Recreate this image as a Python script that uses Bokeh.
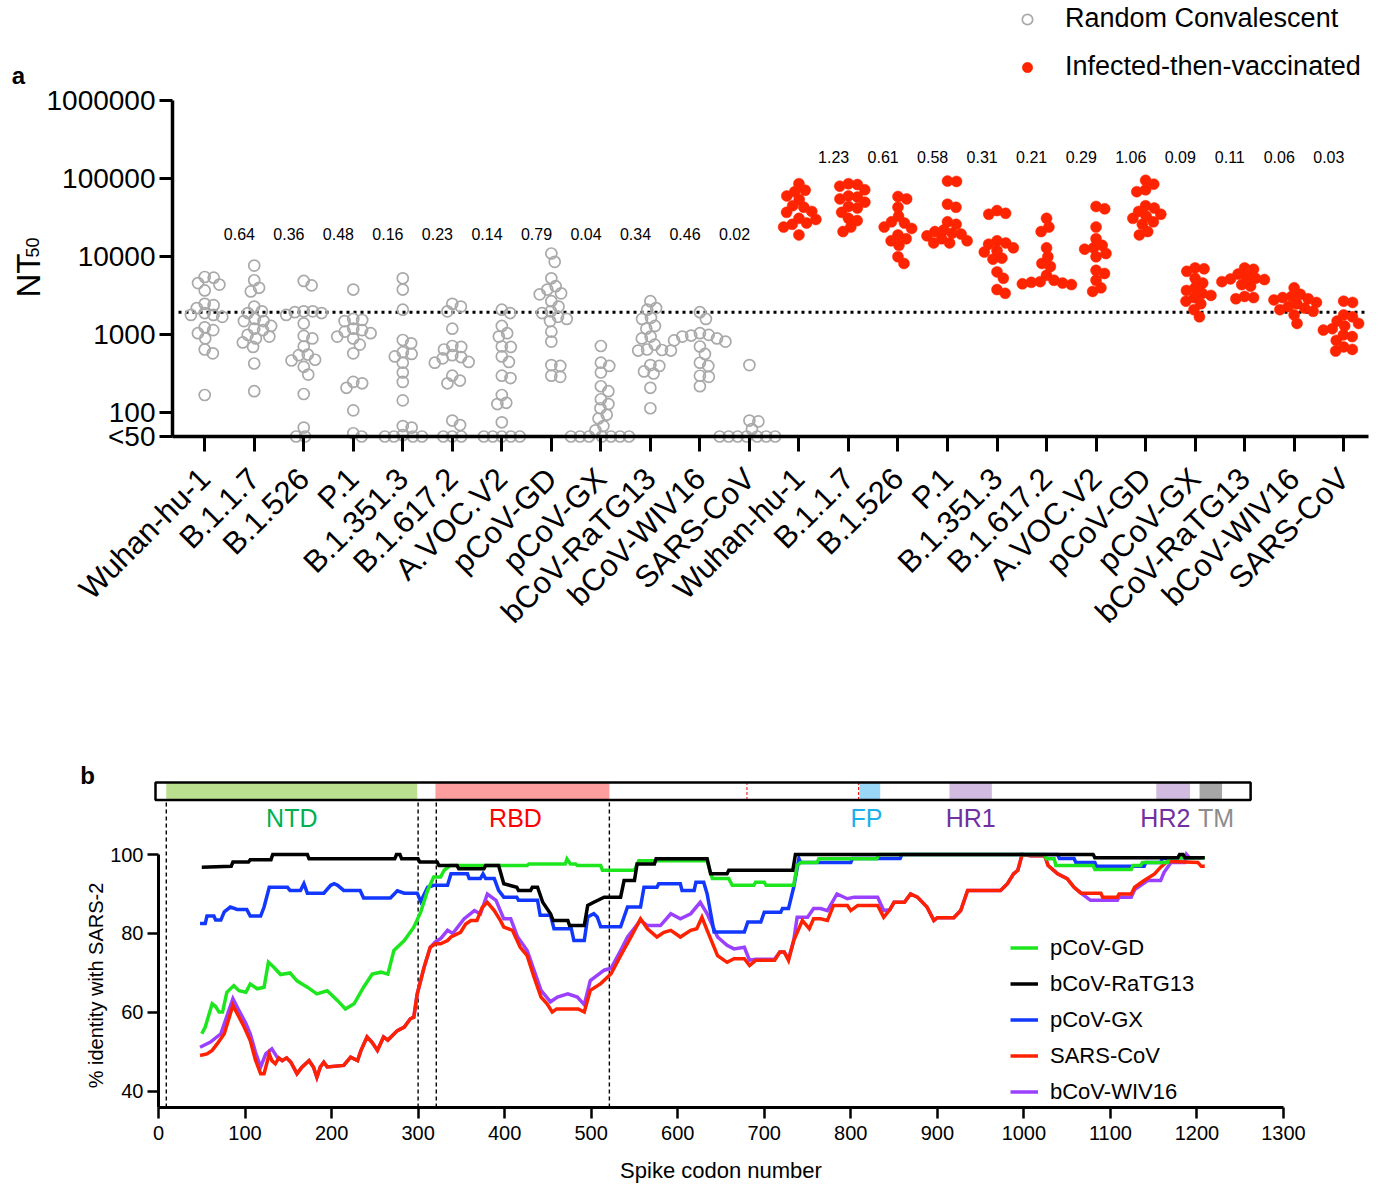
from math import pi, log10, sqrt
from bokeh.plotting import figure
from bokeh.layouts import column
from bokeh.models import Range1d, FixedTicker, Label, Legend, LegendItem, ColumnDataSource
from bokeh.core.properties import value
from bokeh.embed import file_html
from bokeh.resources import INLINE

FONT = "Liberation Sans"

# ---------------- Panel a data ----------------
CATEGORIES = ["Wuhan-hu-1", "B.1.1.7", "B.1.526", "P.1", "B.1.351.3", "B.1.617.2",
              "A.VOC.V2", "pCoV-GD", "pCoV-GX", "bCoV-RaTG13", "bCoV-WIV16", "SARS-CoV"]

CONV_WUHAN = [5500, 5400, 4600, 4400, 3700, 2500, 2400, 2200, 1900, 1800, 1800, 1700, 1250, 1150, 1050, 900, 650, 580, 170]
CONV_B117 = [7700, 5000, 4000, 3600, 2300, 2000, 1900, 1600, 1500, 1500, 1300, 1200, 1150, 1000, 950, 900, 800, 700, 430, 190]
CONV_B1526 = [4900, 4300, 2000, 2000, 1950, 1900, 1800, 1400, 970, 900, 710, 560, 550, 480, 470, 390, 310, 175, 65, 50, 50]
CONV_P1 = [3800, 1600, 1550, 1500, 1200, 1150, 1100, 1050, 950, 900, 750, 580, 250, 240, 210, 108, 55, 50]
CONV_B13513 = [5300, 3800, 2100, 860, 780, 600, 570, 530, 440, 330, 250, 145, 68, 65, 52, 50, 50, 50, 50]
CONV_B16172 = [2500, 2300, 2000, 1200, 720, 700, 650, 550, 520, 500, 450, 440, 300, 260, 240, 80, 70, 50, 50, 50]
CONV_AVOCV2 = [2100, 1900, 1300, 1050, 950, 710, 700, 530, 450, 300, 280, 170, 135, 130, 76, 50, 50, 50, 50, 50]
CONV_PCOVGD = [11000, 8600, 5300, 4200, 3800, 3400, 3300, 2700, 2300, 2000, 1900, 1700, 1600, 1500, 1100, 820, 410, 400, 300, 290]
CONV_PCOVGX = [720, 440, 400, 330, 220, 190, 150, 130, 115, 95, 85, 68, 60, 50, 50, 50, 50, 50, 50, 50]
CONV_RATG13 = [2700, 2200, 2100, 1650, 1600, 1300, 1200, 950, 900, 750, 650, 640, 630, 630, 410, 400, 340, 320, 210, 115]
CONV_WIV16 = [1950, 1600, 1050, 1000, 980, 950, 900, 850, 820, 710, 570, 440, 400, 300, 290, 220]
CONV_SARS = [410, 80, 78, 62, 50, 50, 50, 50, 50, 50, 50]

VACC_WUHAN = [86000, 71000, 68000, 60000, 54000, 45000, 43000, 38000, 37000, 31000, 30000, 27000, 26000, 24000, 19000]
VACC_B117 = [86000, 84000, 80000, 72000, 60000, 58000, 55000, 50000, 44000, 42000, 37000, 31000, 29000, 24000, 21000]
VACC_B1526 = [59000, 55000, 43000, 33000, 28000, 27000, 24000, 23000, 19000, 17000, 16000, 14000, 10000, 8200]
VACC_P1 = [93000, 92000, 47000, 43000, 28000, 26000, 22000, 21000, 20000, 19500, 18500, 17000, 16000, 15000, 15000]
VACC_B13513 = [39000, 36000, 35000, 16000, 15000, 14500, 13000, 12000, 11500, 9600, 9300, 6400, 5300, 3800, 3400]
VACC_B16172 = [31000, 24000, 21000, 13000, 10000, 8200, 7500, 5800, 5000, 4800, 4700, 4600, 4500, 4400]
VACC_AVOCV2 = [44000, 41000, 24000, 17000, 14000, 13000, 12500, 11000, 10000, 6700, 6100, 5000, 4000, 3600]
VACC_PCOVGD = [95000, 85000, 72000, 68000, 45000, 42000, 38000, 35000, 33000, 31000, 28000, 26000, 21000, 19000]
VACC_PCOVGX = [7200, 7000, 6500, 5300, 4600, 4000, 3700, 3400, 3200, 3000, 2700, 2500, 2100, 1700]
VACC_RATG13 = [7200, 6900, 6000, 5500, 5300, 5200, 5100, 4800, 4400, 4200, 3100, 3000, 2900]
VACC_WIV16 = [4000, 3300, 3100, 3000, 2900, 2800, 2600, 2500, 2300, 2200, 2100, 2000, 1800, 1400]
VACC_SARS = [2700, 2600, 1800, 1700, 1500, 1400, 1300, 1200, 1150, 1000, 950, 850, 700, 650, 620]

CONV_GROUPS = [CONV_WUHAN, CONV_B117, CONV_B1526, CONV_P1, CONV_B13513, CONV_B16172,
               CONV_AVOCV2, CONV_PCOVGD, CONV_PCOVGX, CONV_RATG13, CONV_WIV16, CONV_SARS]
VACC_GROUPS = [VACC_WUHAN, VACC_B117, VACC_B1526, VACC_P1, VACC_B13513, VACC_B16172,
               VACC_AVOCV2, VACC_PCOVGD, VACC_PCOVGX, VACC_RATG13, VACC_WIV16, VACC_SARS]

CONV_RATIOS = ["0.64", "0.36", "0.48", "0.16", "0.23", "0.14", "0.79", "0.04", "0.34", "0.46", "0.02"]
VACC_RATIOS = ["1.23", "0.61", "0.58", "0.31", "0.21", "0.29", "1.06", "0.09", "0.11", "0.06", "0.03"]
CONV_RATIO_LEVEL = 19500
VACC_RATIO_LEVEL = 188000
THRESHOLD = 1950
Y_TICKS = [50, 100, 1000, 10000, 100000, 1000000]
Y_TICK_LABELS = ["<50", "100", "1000", "10000", "100000", "1000000"]

# ---------------- Panel b data ----------------
PCOV_GD = [(50, 54.6), (54, 56.3), (62, 62.2), (66, 61.5), (70, 60.1), (74, 60.1), (79, 65.1), (87, 66.8),
           (93, 65.5), (101, 65.1), (106, 67.2), (114, 66.0), (122, 66.4), (127, 72.7), (133, 71.5), (141, 69.6),
           (152, 70.0), (160, 68.0), (172, 66.4), (183, 64.7), (195, 65.5), (207, 63.0), (216, 60.9), (226, 62.2),
           (237, 66.4), (247, 69.7), (257, 70.2), (265, 69.7), (272, 75.7), (284, 78.2), (295, 81.6), (303, 85.4),
           (311, 90.9), (318, 94.3), (326, 94.3), (330, 96.0), (337, 97.2), (426, 97.2), (428, 97.6), (470, 97.6),
           (472, 98.9), (476, 97.6), (482, 97.6), (484, 97.2), (511, 97.2), (513, 96.0), (550, 96.0), (555, 98.4),
           (634, 98.4), (640, 93.9), (659, 93.9), (663, 92.2), (688, 92.2), (690, 93.0), (700, 93.0), (702, 92.2),
           (734, 92.2), (738, 97.2), (742, 98.0), (761, 98.0), (763, 98.9), (830, 98.9), (832, 100), (1024, 100),
           (1026, 98.9), (1035, 98.9), (1037, 97.2), (1080, 97.2), (1082, 96.2), (1124, 96.2), (1126, 97.2),
           (1135, 97.2), (1137, 98.0), (1166, 98.0), (1168, 99.2), (1209, 99.2)]

BCOV_RATG13 = [(50, 96.8), (84, 97.0), (86, 98.1), (104, 98.1), (106, 98.7), (130, 98.7), (132, 100), (172, 100),
               (174, 98.9), (273, 98.9), (275, 100), (279, 100), (281, 98.9), (300, 98.9), (302, 98.1), (322, 98.1),
               (324, 97.2), (345, 97.2), (347, 96.4), (376, 96.4), (378, 97.2), (393, 97.2), (399, 92.6), (414, 91.7),
               (416, 90.9), (430, 90.9), (432, 91.7), (438, 91.7), (444, 87.9), (453, 85.0), (456, 83.3), (473, 83.3),
               (475, 82.0), (492, 82.0), (496, 87.1), (503, 87.9), (515, 89.2), (534, 89.2), (538, 93.4), (550, 93.4),
               (553, 97.6), (573, 97.6), (575, 98.9), (634, 98.9), (638, 95.1), (657, 95.1), (659, 96.0), (733, 96.0),
               (736, 100), (1080, 100), (1082, 99.2), (1178, 99.2), (1180, 100), (1184, 100), (1186, 99.2), (1209, 99.2)]

PCOV_GX = [(48, 82.5), (54, 82.5), (56, 84.4), (64, 84.4), (66, 83.4), (72, 83.4), (76, 85.5), (83, 86.7),
           (91, 86.1), (102, 86.1), (106, 84.4), (118, 84.4), (122, 86.7), (128, 91.7), (149, 91.7), (152, 90.9),
           (164, 90.9), (168, 92.6), (172, 90.2), (191, 90.2), (199, 92.2), (203, 92.6), (207, 92.2), (214, 90.9),
           (233, 90.9), (237, 89.0), (268, 89.0), (276, 90.8), (284, 90.2), (299, 90.2), (303, 88.1), (311, 91.7),
           (318, 92.2), (334, 92.2), (338, 95.1), (357, 95.1), (359, 93.9), (372, 93.9), (375, 95.1), (378, 93.9),
           (388, 93.9), (393, 90.9), (399, 89.2), (414, 89.2), (416, 88.4), (438, 88.4), (441, 84.6), (453, 84.6),
           (457, 81.2), (477, 81.2), (480, 78.2), (492, 78.2), (496, 84.2), (503, 85.0), (507, 84.2), (511, 81.7),
           (534, 81.7), (542, 86.7), (557, 86.7), (561, 91.7), (576, 91.7), (578, 92.6), (603, 92.6), (605, 90.9),
           (619, 90.9), (621, 93.0), (630, 93.0), (634, 90.0), (642, 80.4), (677, 80.4), (681, 82.9), (696, 82.9),
           (700, 85.4), (719, 85.4), (721, 86.3), (728, 86.3), (734, 91.7), (740, 99.0), (742, 98.0), (800, 98.0),
           (802, 99.0), (857, 99.0), (859, 100), (1039, 100), (1041, 99.0), (1058, 99.0), (1060, 98.0), (1082, 98.0),
           (1084, 97.0), (1139, 97.0), (1141, 98.0), (1158, 98.0), (1160, 99.0), (1166, 99.0), (1168, 99.2), (1205, 99.2)]

SARS_COV = [(48, 49.1), (56, 49.5), (62, 50.4), (68, 52.1), (76, 54.6), (86, 61.8), (91, 59.7), (99, 56.3),
            (106, 52.9), (112, 48.0), (118, 44.5), (122, 44.5), (128, 49.5), (131, 47.8), (135, 47.0), (139, 48.5),
            (143, 47.8), (148, 48.5), (153, 47.4), (160, 44.5), (166, 46.2), (174, 47.8), (179, 46.2), (183, 43.6),
            (187, 46.2), (191, 47.4), (195, 46.2), (214, 46.6), (222, 48.7), (230, 47.8), (234, 50.4), (241, 53.8),
            (247, 52.4), (253, 50.4), (260, 53.8), (265, 53.0), (276, 55.4), (284, 56.3), (291, 58.4), (295, 58.8),
            (299, 64.7), (307, 71.5), (314, 76.5), (320, 77.4), (326, 77.4), (334, 78.2), (338, 79.1), (349, 80.3),
            (355, 82.4), (361, 83.3), (368, 83.3), (374, 86.6), (380, 87.9), (388, 85.8), (395, 83.3), (399, 81.6),
            (409, 80.8), (418, 76.5), (426, 74.4), (434, 68.9), (442, 63.9), (449, 62.2), (455, 60.1), (460, 60.9),
            (473, 60.9), (485, 60.9), (492, 60.1), (499, 65.6), (511, 67.3), (523, 69.8), (534, 74.4), (546, 79.1),
            (557, 83.7), (565, 81.2), (576, 79.1), (584, 80.3), (592, 80.8), (603, 79.1), (615, 80.8), (622, 81.2),
            (628, 84.1), (634, 80.8), (646, 74.4), (657, 72.7), (665, 73.6), (677, 73.6), (683, 71.9), (690, 73.2),
            (712, 73.2), (718, 75.3), (723, 75.3), (728, 73.2), (734, 78.2), (744, 83.3), (752, 81.2), (757, 83.7),
            (765, 83.7), (773, 83.3), (780, 87.1), (796, 87.1), (800, 85.8), (808, 87.1), (831, 87.1), (838, 84.1),
            (845, 86.0), (850, 87.9), (862, 87.9), (869, 90.0), (877, 89.2), (888, 86.7), (896, 83.3), (900, 84.0),
            (919, 84.0), (927, 85.8), (935, 90.9), (973, 90.9), (981, 92.6), (988, 95.1), (993, 96.0), (998, 100),
            (1008, 99.7), (1024, 99.7), (1028, 97.2), (1039, 95.1), (1050, 93.9), (1058, 91.7), (1066, 90.2),
            (1089, 90.2), (1091, 89.2), (1108, 89.2), (1110, 90.0), (1124, 90.0), (1128, 91.7), (1139, 93.4),
            (1151, 95.1), (1158, 96.8), (1166, 98.3), (1201, 98.0), (1205, 97.0), (1209, 97.0)]

BCOV_WIV16 = [(48, 51.2), (60, 52.5), (72, 54.6), (80, 59.7), (86, 63.5), (93, 60.5), (101, 57.2), (106, 54.6),
              (112, 50.0), (118, 46.2), (124, 49.5), (131, 50.8), (137, 48.7), (143, 47.8), (148, 48.5), (153, 47.4),
              (160, 44.5), (166, 46.2), (174, 47.8), (179, 46.2), (183, 43.6), (187, 46.2), (191, 47.4), (195, 46.2),
              (214, 46.6), (222, 48.7), (230, 47.8), (234, 50.4), (241, 53.8), (247, 52.4), (253, 50.4), (260, 53.8),
              (265, 53.0), (276, 55.4), (284, 56.3), (291, 58.4), (295, 58.8), (299, 64.7), (307, 71.5), (314, 76.5),
              (320, 77.9), (326, 78.7), (334, 80.8), (340, 80.0), (353, 83.7), (365, 85.8), (372, 85.0), (380, 90.0),
              (390, 88.4), (399, 83.7), (407, 83.7), (415, 79.1), (426, 75.7), (434, 70.7), (442, 65.6), (453, 62.7),
              (461, 63.9), (473, 64.7), (484, 63.9), (492, 62.0), (499, 68.1), (515, 70.7), (523, 71.2), (534, 75.7),
              (542, 79.1), (557, 83.3), (565, 82.0), (580, 82.0), (592, 85.0), (603, 83.7), (615, 85.0), (626, 87.9),
              (634, 85.0), (646, 79.1), (657, 77.0), (665, 76.1), (677, 76.5), (683, 73.2), (690, 73.5), (712, 73.5),
              (718, 75.3), (723, 75.3), (728, 73.5), (734, 78.2), (738, 84.1), (750, 84.1), (757, 86.3), (765, 86.3),
              (773, 85.8), (784, 90.0), (796, 88.8), (804, 89.2), (831, 89.2), (838, 85.8), (845, 86.0), (850, 87.9),
              (862, 87.9), (869, 90.0), (877, 89.2), (888, 86.7), (896, 83.3), (900, 84.0), (919, 84.0), (927, 85.8),
              (935, 90.9), (973, 90.9), (981, 92.6), (988, 95.1), (993, 96.0), (998, 100), (1008, 99.7), (1024, 99.7),
              (1028, 97.2), (1039, 95.1), (1050, 93.9), (1058, 91.7), (1066, 90.2), (1077, 88.4), (1108, 88.4),
              (1110, 89.2), (1124, 89.2), (1128, 91.1), (1143, 93.4), (1158, 93.4), (1162, 95.5), (1170, 98.0),
              (1186, 98.0), (1188, 100), (1192, 99.0)]

SERIES_NAMES = ["pCoV-GD", "bCoV-RaTG13", "pCoV-GX", "SARS-CoV", "bCoV-WIV16"]
SERIES_DATA = [PCOV_GD, BCOV_RATG13, PCOV_GX, SARS_COV, BCOV_WIV16]
SERIES_COLORS = ["#1ee61e", "#000000", "#1238ff", "#ff2200", "#9b40ff"]

DOMAIN_NAMES = ["NTD", "RBD", "FP", "HR1", "HR2", "TM"]
DOMAIN_START = [9, 320, 810, 914, 1153, 1203]
DOMAIN_END = [299, 521, 834, 963, 1192, 1229]
DOMAIN_FILL = ["#bae08f", "#ff9e9e", "#9ad6f5", "#d2bbe0", "#d2bbe0", "#a6a6a6"]
DOMAIN_TEXT = ["#00b050", "#ff0000", "#1ab0ec", "#7030a0", "#7030a0", "#8c8c8c"]
SPIKE_LENGTH = 1262
CLEAVAGE_SITES = [680, 809]
BOUNDARIES = [9, 300, 321, 521]

# ================= Panel a =================
# The frame fills the whole canvas; axes sit at fixed locations inside it.
A_W, A_H = 1379, 740
AX_LEFT_PX, AX_RIGHT_PX = 172, 1368
AX_TOP_PX, AX_FLOOR_PX = 100, 436
X_FIRST_PX = 204.2
PXU = 49.52
Y_FLOOR, Y_TOP = 50, 1e6
PX_DEC = (AX_FLOOR_PX - AX_TOP_PX) / log10(Y_TOP / Y_FLOOR)


def xa(px):
    return (px - X_FIRST_PX) / PXU


def ya(py):
    return 10 ** (log10(Y_TOP) - (py - AX_TOP_PX) / PX_DEC)


pa = figure(width=A_W, height=A_H, title=None, x_range=Range1d(xa(0), xa(A_W)),
            y_range=Range1d(ya(A_H), ya(0)), y_axis_type="log",
            output_backend="svg", toolbar_location=None, min_border=0)
pa.outline_line_color = None
pa.xgrid.visible = False
pa.ygrid.visible = False


def beeswarm(vals, d):
    ys = [log10(v) * PX_DEC for v in vals]
    order = sorted(range(len(vals)), key=lambda i: -vals[i])
    placed = []
    offs = [0.0] * len(vals)
    for i in order:
        y = ys[i]
        cands = [0.0]
        for (xj, yj) in placed:
            dy = abs(y - yj)
            if dy < d:
                dx = sqrt(d * d - dy * dy)
                cands += [xj + dx, xj - dx]
        cands.sort(key=lambda c: (round(abs(c), 6), -c))
        xsel = cands[-1]
        for c in cands:
            if all((c - xj) ** 2 + (y - yj) ** 2 >= d * d - 1e-6 for xj, yj in placed):
                xsel = c
                break
        placed.append((xsel, y))
        offs[i] = xsel / PXU
    return offs


gx, gy, rx, ry = [], [], [], []
n = len(CATEGORIES)
for k, vals in enumerate(CONV_GROUPS):
    for o, v in zip(beeswarm(vals, 9.0), vals):
        gx.append(k + o)
        gy.append(v)
for k, vals in enumerate(VACC_GROUPS):
    for o, v in zip(beeswarm(vals, 9.0), vals):
        rx.append(n + k + o)
        ry.append(v)

# threshold dotted line (from y axis to end of x axis)
pa.segment(x0=[xa(AX_LEFT_PX + 6)], x1=[xa(AX_RIGHT_PX)], y0=[THRESHOLD], y1=[THRESHOLD],
           line_color="black", line_width=3, line_dash="3 4")

r_grey = pa.scatter(gx, gy, marker="circle", size=11, fill_color=None,
                    line_color="#a9a9a9", line_width=1.7)
r_red = pa.scatter(rx, ry, marker="circle", size=11, fill_color="#ff2400",
                   line_color="#ff2400", line_width=0.5)

src_ratio = ColumnDataSource(dict(
    x=[i - 0.3 for i in range(1, n)] + [n + i - 0.3 for i in range(1, n)],
    y=[CONV_RATIO_LEVEL] * (n - 1) + [VACC_RATIO_LEVEL] * (n - 1),
    t=CONV_RATIOS + VACC_RATIOS))
pa.text(x="x", y="y", text="t", source=src_ratio, text_font=value(FONT), text_font_size="16px",
        text_align="center", text_baseline="middle", text_color="black")

# axes
pa.yaxis.ticker = FixedTicker(ticks=Y_TICKS, minor_ticks=[])
pa.yaxis.major_label_overrides = {t: l for t, l in zip(Y_TICKS, Y_TICK_LABELS)}
pa.yaxis.bounds = (Y_FLOOR, Y_TOP)
pa.yaxis.fixed_location = xa(AX_LEFT_PX)
pa.xaxis.ticker = FixedTicker(ticks=list(range(2 * n)), minor_ticks=[])
pa.xaxis.major_label_overrides = {i: CATEGORIES[i % n] for i in range(2 * n)}
pa.xaxis.major_label_orientation = pi / 4
pa.xaxis.fixed_location = Y_FLOOR
pa.xaxis.bounds = (xa(AX_LEFT_PX), xa(AX_RIGHT_PX))
for ax in (pa.xaxis[0], pa.yaxis[0]):
    ax.axis_line_width = 3.5
    ax.axis_line_color = "black"
    ax.major_tick_line_width = 3
    ax.major_tick_line_color = "black"
    ax.major_tick_in = 0
    ax.major_tick_out = 13
    ax.minor_tick_line_color = None
    ax.major_label_text_font = FONT
    ax.major_label_text_color = "black"
pa.yaxis.major_label_text_font_size = "28px"
pa.yaxis.major_label_standoff = 4
pa.xaxis.major_label_text_font_size = "31px"
pa.xaxis.major_label_standoff = 22
pa.xaxis.major_tick_out = 15

# NT50 axis title (NT with subscript 50) and panel letter
pa.add_layout(Label(x=xa(28), y=ya(297), text="NT", angle=pi / 2, text_align="left",
                    text_baseline="middle", text_font=FONT, text_font_size="33px",
                    text_color="black"))
pa.add_layout(Label(x=xa(32), y=ya(257), text="50", angle=pi / 2, text_align="left",
                    text_baseline="middle", text_font=FONT, text_font_size="18px",
                    text_color="black"))
pa.add_layout(Label(x=xa(18), y=ya(75), text="a", text_align="center", text_baseline="middle",
                    text_font=FONT, text_font_size="24px", text_font_style="bold",
                    text_color="black"))

leg_a = Legend(items=[LegendItem(label="Random Convalescent", renderers=[r_grey]),
                      LegendItem(label="Infected-then-vaccinated", renderers=[r_red])],
               location=(1014, A_H - 82), orientation="vertical",
               glyph_width=26, glyph_height=30, label_height=30, label_width=10, spacing=17,
               padding=0, margin=0, label_standoff=25, border_line_color=None,
               background_fill_alpha=0, label_text_font=FONT, label_text_font_size="27px",
               label_text_color="black")
pa.add_layout(leg_a)

# ================= Panel b =================
B_W, B_H = 1379, 1185 - A_H
B_OFF = A_H                       # canvas top of panel b within the page
BX0_PX, BX_SCALE = 158, 1125 / 1300.0
BY100_PX, BY_SCALE = 854, 3.949
B_AXIS_PX = 1107


def xb(px):
    return (px - BX0_PX) / BX_SCALE


def yb(py):
    return 100 - (py - BY100_PX) / BY_SCALE


pb = figure(width=B_W, height=B_H, title=None, x_range=Range1d(xb(0), xb(B_W)),
            y_range=Range1d(yb(B_OFF + B_H), yb(B_OFF)),
            output_backend="svg", toolbar_location=None, min_border=0)
pb.outline_line_color = None
pb.xgrid.visible = False
pb.ygrid.visible = False

y_axis_base = yb(B_AXIS_PX)
bar_bottom, bar_top = yb(799.5), yb(782)
label_y = yb(817)

# boundaries
pb.segment(x0=BOUNDARIES, x1=BOUNDARIES, y0=[y_axis_base] * len(BOUNDARIES),
           y1=[bar_bottom] * len(BOUNDARIES), line_color="black", line_width=1.4, line_dash="4 3")

# domain bar
pb.quad(left=DOMAIN_START, right=DOMAIN_END, bottom=[bar_bottom] * len(DOMAIN_START),
        top=[bar_top] * len(DOMAIN_START), fill_color=DOMAIN_FILL, line_color=None)
pb.segment(x0=CLEAVAGE_SITES, x1=CLEAVAGE_SITES, y0=[bar_bottom] * 2, y1=[bar_top] * 2,
           line_color="#ff0000", line_width=1, line_dash="3 2")
pb.quad(left=[xb(155)], right=[SPIKE_LENGTH], bottom=[bar_bottom], top=[bar_top],
        fill_color=None, line_color="black", line_width=2.5)

nudges = [0, -8, -4, 0, -9, 6]
label_x = [(s + e) / 2 + d for s, e, d in zip(DOMAIN_START, DOMAIN_END, nudges)]
pb.text(x=label_x, y=[label_y] * len(label_x), text=DOMAIN_NAMES, text_color=DOMAIN_TEXT,
        text_font=value(FONT), text_font_size="25px", text_align="center", text_baseline="middle")

draw_order = [4, 3, 2, 0, 1]
rend = {}
for i in draw_order:
    xs = [p[0] for p in SERIES_DATA[i]]
    ys = [p[1] for p in SERIES_DATA[i]]
    rend[i] = pb.line(xs, ys, line_color=SERIES_COLORS[i], line_width=3.5, line_join="miter")

leg_b = Legend(items=[LegendItem(label=SERIES_NAMES[i], renderers=[rend[i]]) for i in range(5)],
               location=(1010, (B_OFF + B_H) - 1104.5), orientation="vertical",
               glyph_width=28, glyph_height=25, label_height=25, label_width=10, spacing=10,
               padding=0, margin=0, label_standoff=12, border_line_color=None,
               background_fill_alpha=0, label_text_font=FONT, label_text_font_size="22px",
               label_text_color="black")
pb.add_layout(leg_b)

pb.xaxis.ticker = FixedTicker(ticks=list(range(0, 1301, 100)), minor_ticks=[])
pb.yaxis.ticker = FixedTicker(ticks=[40, 60, 80, 100], minor_ticks=[])
pb.xaxis.fixed_location = y_axis_base
pb.xaxis.bounds = (0, 1300)
pb.yaxis.fixed_location = 0
pb.yaxis.bounds = (y_axis_base, 100)
for ax in (pb.xaxis[0], pb.yaxis[0]):
    ax.axis_line_width = 3
    ax.axis_line_color = "black"
    ax.major_tick_line_width = 2.5
    ax.major_tick_line_color = "black"
    ax.major_tick_in = 0
    ax.major_tick_out = 11
    ax.minor_tick_line_color = None
    ax.major_label_text_font = FONT
    ax.major_label_text_font_size = "20px"
    ax.major_label_text_color = "black"
pb.xaxis.major_label_standoff = 7
pb.yaxis.major_label_standoff = 4

pb.add_layout(Label(x=650, y=yb(1170), text="Spike codon number", text_align="center",
                    text_baseline="middle", text_font=FONT, text_font_size="22px",
                    text_color="black"))
pb.add_layout(Label(x=xb(95), y=yb(985), text="% identity with SARS-2", angle=pi / 2,
                    text_align="center", text_baseline="middle", text_font=FONT,
                    text_font_size="20px", text_color="black"))
pb.add_layout(Label(x=xb(87), y=yb(775), text="b", text_align="center", text_baseline="middle",
                    text_font=FONT, text_font_size="24px", text_font_style="bold",
                    text_color="black"))

layout = column(pa, pb, spacing=0)
open("out.html", "w").write(file_html(layout, INLINE))
